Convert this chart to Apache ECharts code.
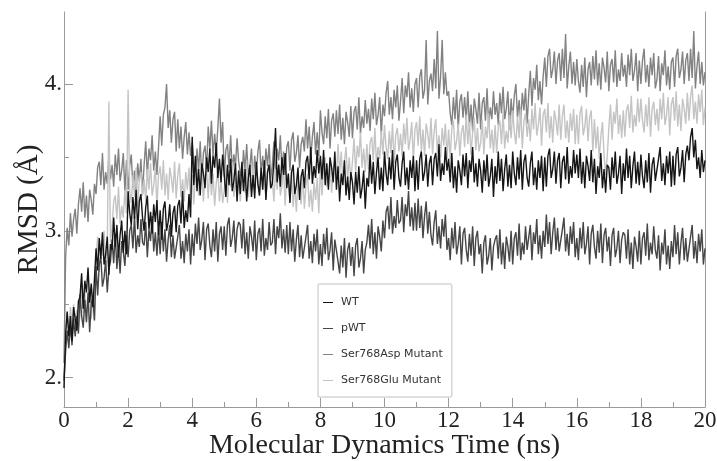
<!DOCTYPE html>
<html>
<head>
<meta charset="utf-8">
<script src="https://cdn.jsdelivr.net/npm/echarts@6/dist/echarts.min.js"></script>
<style>html,body{margin:0;padding:0;background:#fff}#chart{width:717px;height:461px}</style>
</head>
<body>
<div id="chart"></div>
<script>
// Sampling step of the traces (ns per frame)
const timeStep = 0.05;
const seriesNames = ['WT', 'pWT', 'Ser768Asp Mutant', 'Ser768Glu Mutant'];
const xTicks = [0, 2, 4, 6, 8, 10, 12, 14, 16, 18, 20];
const yTickLabels = [2, 3, 4];
const yMinorTicks = [2.5, 3.5];

const wt = [
1.93,2.30,2.45,2.28,2.42,2.25,2.48,2.40,2.32,2.52,
2.55,2.71,2.47,2.66,2.58,2.75,2.51,2.64,2.48,2.67,
2.88,2.73,2.95,2.81,2.99,2.77,2.84,2.96,2.70,2.91,
2.87,3.09,2.89,3.04,2.82,2.97,3.07,2.85,3.00,2.84,
3.27,3.12,3.04,3.23,3.08,3.28,3.01,3.20,3.25,3.09,
3.00,3.16,3.24,3.01,3.13,2.98,3.18,3.06,3.21,2.97,
3.14,2.94,3.15,3.20,3.00,3.06,3.18,2.96,3.12,3.17,
2.99,3.17,3.21,3.05,3.27,3.02,3.14,3.06,3.25,3.09,
3.64,3.31,3.51,3.27,3.42,3.24,3.46,3.39,3.29,3.50,
3.40,3.56,3.32,3.51,3.43,3.60,3.36,3.49,3.33,3.52,
3.38,3.23,3.45,3.31,3.49,3.27,3.34,3.46,3.20,3.41,
3.25,3.47,3.27,3.42,3.20,3.35,3.45,3.23,3.38,3.22,
3.47,3.32,3.24,3.43,3.28,3.48,3.21,3.40,3.45,3.29,
3.32,3.48,3.70,3.33,3.45,3.30,3.50,3.38,3.53,3.29,
3.39,3.19,3.40,3.45,3.25,3.31,3.43,3.21,3.37,3.42,
3.29,3.47,3.51,3.35,3.57,3.32,3.44,3.36,3.55,3.39,
3.51,3.35,3.55,3.31,3.46,3.28,3.50,3.43,3.33,3.54,
3.28,3.44,3.20,3.39,3.31,3.48,3.24,3.37,3.21,3.40,
3.33,3.18,3.40,3.26,3.44,3.22,3.29,3.41,3.15,3.36,
3.30,3.52,3.32,3.47,3.25,3.40,3.50,3.28,3.43,3.27,
3.54,3.39,3.31,3.50,3.35,3.55,3.28,3.47,3.52,3.36,
3.30,3.46,3.54,3.31,3.43,3.28,3.48,3.36,3.51,3.27,
3.48,3.28,3.49,3.54,3.34,3.40,3.52,3.30,3.46,3.51,
3.31,3.49,3.53,3.37,3.59,3.34,3.46,3.38,3.57,3.41,
3.49,3.33,3.53,3.29,3.44,3.26,3.48,3.41,3.31,3.52,
3.37,3.53,3.29,3.48,3.40,3.57,3.33,3.46,3.30,3.49,
3.41,3.26,3.48,3.34,3.52,3.30,3.37,3.49,3.23,3.44,
3.32,3.54,3.34,3.49,3.27,3.42,3.52,3.30,3.45,3.29,
3.54,3.39,3.31,3.50,3.35,3.55,3.28,3.47,3.52,3.36,
3.30,3.46,3.54,3.31,3.43,3.28,3.48,3.36,3.51,3.27,
3.50,3.30,3.51,3.56,3.36,3.42,3.54,3.32,3.48,3.53,
3.29,3.47,3.51,3.35,3.57,3.32,3.44,3.36,3.55,3.39,
3.52,3.36,3.56,3.32,3.47,3.29,3.51,3.44,3.34,3.55,
3.33,3.49,3.25,3.44,3.36,3.53,3.29,3.42,3.26,3.45,
3.43,3.28,3.50,3.36,3.54,3.32,3.39,3.51,3.25,3.46,
3.34,3.56,3.36,3.51,3.29,3.44,3.54,3.32,3.47,3.31,
3.52,3.37,3.29,3.48,3.33,3.53,3.26,3.45,3.50,3.34,
3.33,3.49,3.57,3.34,3.46,3.31,3.51,3.39,3.54,3.30,
3.51,3.31,3.52,3.57,3.37,3.43,3.55,3.33,3.52,3.58,
3.48,3.64,3.70,3.50,3.62,3.42,3.50,3.36,3.55,3.40,
3.48];

const pwt = [
1.98,2.18,2.32,2.20,2.36,2.22,2.40,2.28,2.42,2.30,
2.57,2.42,2.34,2.53,2.38,2.58,2.31,2.50,2.55,2.39,
2.76,2.56,2.77,2.82,2.62,2.68,2.80,2.58,2.74,2.79,
2.94,2.78,2.98,2.74,2.89,2.71,2.93,2.86,2.76,2.97,
2.82,3.00,3.04,2.88,3.10,2.85,2.97,2.89,3.08,2.92,
2.90,3.06,2.82,3.01,2.93,3.10,2.86,2.99,2.83,3.02,
2.84,3.06,2.86,3.01,2.79,2.94,3.04,2.82,2.97,2.81,
2.80,2.96,3.04,2.81,2.93,2.78,2.98,2.86,3.01,2.77,
2.98,2.83,3.05,2.91,3.09,2.87,2.94,3.06,2.80,3.01,
3.05,2.90,2.82,3.01,2.86,3.06,2.79,2.98,3.03,2.87,
3.03,2.83,3.04,3.09,2.89,2.95,3.07,2.85,3.01,3.06,
3.04,2.88,3.08,2.84,2.99,2.81,3.03,2.96,2.86,3.07,
2.80,2.98,3.02,2.86,3.08,2.83,2.95,2.87,3.06,2.90,
2.92,3.08,2.84,3.03,2.95,3.12,2.88,3.01,2.85,3.04,
2.84,3.06,2.86,3.01,2.79,2.94,3.04,2.82,2.97,2.81,
2.80,2.96,3.04,2.81,2.93,2.78,2.98,2.86,3.01,2.77,
2.91,2.76,2.98,2.84,3.02,2.80,2.87,2.99,2.73,2.94,
2.94,2.79,2.71,2.90,2.75,2.95,2.68,2.87,2.92,2.76,
2.89,2.69,2.90,2.95,2.75,2.81,2.93,2.71,2.87,2.92,
3.04,2.88,3.08,2.84,2.99,2.81,3.03,2.96,2.86,3.07,
2.95,3.13,3.17,3.01,3.23,2.98,3.10,3.02,3.21,3.05,
3.07,3.23,2.99,3.18,3.10,3.27,3.03,3.16,3.00,3.19,
3.00,3.22,3.02,3.17,2.95,3.10,3.20,2.98,3.13,2.97,
2.90,3.06,3.14,2.91,3.03,2.88,3.08,2.96,3.11,2.87,
2.95,2.80,3.02,2.88,3.06,2.84,2.91,3.03,2.77,2.98,
3.02,2.87,2.79,2.98,2.83,3.03,2.76,2.95,3.00,2.84,
2.91,2.71,2.92,2.97,2.77,2.83,2.95,2.73,2.89,2.94,
2.97,2.81,3.01,2.77,2.92,2.74,2.96,2.89,2.79,3.00,
2.77,2.95,2.99,2.83,3.05,2.80,2.92,2.84,3.03,2.87,
2.88,3.04,2.80,2.99,2.91,3.08,2.84,2.97,2.81,3.00,
2.89,3.11,2.91,3.06,2.84,2.99,3.09,2.87,3.02,2.86,
2.85,3.01,3.09,2.86,2.98,2.83,3.03,2.91,3.06,2.82,
2.95,2.80,3.02,2.88,3.06,2.84,2.91,3.03,2.77,2.98,
3.04,2.89,2.81,3.00,2.85,3.05,2.78,2.97,3.02,2.86,
2.96,2.76,2.97,3.02,2.82,2.88,3.00,2.78,2.94,2.99,
2.97,2.81,3.01,2.77,2.92,2.74,2.96,2.89,2.79,3.00,
2.77,2.95,2.99,2.83,3.05,2.80,2.92,2.84,3.03,2.87,
2.81,2.97,2.73,2.92,2.84,3.01,2.77,2.90,2.74,2.93,
2.82,3.04,2.84,2.99,2.77,2.92,3.02,2.80,2.95,2.79,
2.80,2.96,3.04,2.81,2.93,2.78,2.98,2.86,3.01,2.77,
2.88];

const asp = [
2.10,2.82,3.02,2.90,3.12,2.96,3.08,3.15,2.98,3.18,
3.29,3.13,3.33,3.09,3.24,3.06,3.28,3.21,3.11,3.32,
3.25,3.43,3.47,3.31,3.53,3.28,3.40,3.32,3.51,3.35,
3.45,3.30,3.52,3.38,3.56,3.34,3.41,3.53,3.27,3.48,
3.28,3.44,3.52,3.29,3.41,3.26,3.46,3.34,3.49,3.25,
3.45,3.61,3.37,3.56,3.48,3.65,3.41,3.54,3.38,3.57,
3.78,3.58,3.79,3.84,4.00,3.70,3.82,3.60,3.76,3.81,
3.54,3.76,3.56,3.71,3.49,3.64,3.74,3.52,3.67,3.51,
3.60,3.45,3.37,3.56,3.41,3.61,3.34,3.53,3.58,3.42,
3.71,3.55,3.75,3.51,3.66,3.53,3.70,3.90,3.60,3.74,
3.37,3.55,3.59,3.43,3.65,3.40,3.52,3.44,3.63,3.47,
3.48,3.33,3.55,3.41,3.59,3.37,3.44,3.56,3.30,3.51,
3.38,3.54,3.62,3.39,3.51,3.36,3.56,3.44,3.59,3.35,
3.45,3.61,3.37,3.56,3.48,3.65,3.41,3.54,3.38,3.57,
3.61,3.41,3.62,3.67,3.47,3.53,3.65,3.43,3.59,3.64,
3.54,3.76,3.56,3.71,3.49,3.64,3.74,3.52,3.67,3.51,
3.82,3.67,3.59,3.78,3.63,3.83,3.56,3.75,3.80,3.64,
3.82,3.66,3.86,3.62,3.77,3.59,3.81,3.74,3.64,3.85,
3.63,3.81,3.85,3.69,3.91,3.66,3.78,3.70,3.89,3.73,
3.83,3.68,3.90,3.76,3.94,3.72,3.79,3.91,3.65,3.86,
3.78,3.94,4.02,3.79,3.91,3.76,3.96,3.84,3.99,3.75,
3.88,4.04,3.80,3.99,3.91,4.08,3.84,3.97,3.81,4.00,
4.04,3.84,4.05,4.10,3.90,3.96,4.30,3.86,4.02,4.07,
3.95,4.17,3.97,4.36,3.90,4.05,4.30,3.93,4.08,3.92,
3.95,3.80,3.72,3.91,3.76,3.96,3.69,3.88,3.93,3.77,
3.91,3.75,3.95,3.71,3.86,3.68,3.90,3.83,3.73,3.94,
3.69,3.87,3.91,3.75,3.97,3.72,3.84,3.76,3.95,3.79,
3.87,3.72,3.94,3.80,3.98,3.76,3.83,3.95,3.69,3.90,
3.76,3.92,4.00,3.77,3.89,3.74,3.94,3.82,3.97,3.73,
3.93,4.09,3.85,4.04,3.96,4.13,3.89,4.02,3.86,4.05,
4.18,3.98,4.19,4.24,4.04,4.10,4.22,4.00,4.16,4.21,
4.02,4.24,4.04,4.34,3.97,4.12,4.22,4.00,4.15,3.99,
4.17,4.02,3.94,4.13,3.98,4.18,3.91,4.10,4.15,3.99,
4.19,4.03,4.23,3.99,4.14,3.96,4.18,4.11,4.01,4.22,
3.95,4.13,4.17,4.01,4.23,3.98,4.10,4.02,4.21,4.05,
4.13,3.98,4.20,4.06,4.24,4.02,4.09,4.21,3.95,4.16,
4.00,4.16,4.24,4.01,4.13,3.98,4.18,4.06,4.21,3.97,
4.03,4.19,3.95,4.14,4.06,4.23,3.99,4.12,3.96,4.15,
4.18,3.98,4.19,4.24,4.04,4.10,4.22,4.00,4.16,4.21,
4.02,4.24,4.04,4.36,3.97,4.12,4.22,4.00,4.15,3.99,
4.08];

const glu = [
2.00,2.30,2.44,2.32,2.48,2.36,2.50,2.38,2.46,2.34,
2.42,2.64,2.44,2.59,2.37,2.52,2.62,2.40,2.55,2.39,
2.80,2.96,2.72,2.91,2.83,3.00,2.76,2.89,3.88,2.92,
3.02,3.20,3.24,3.08,3.30,3.05,3.17,3.09,3.28,3.12,
3.96,3.27,3.19,3.38,3.23,3.43,3.16,3.35,3.40,3.24,
3.35,3.20,3.42,3.28,3.46,3.24,3.31,3.43,3.17,3.38,
3.44,3.28,3.48,3.24,3.39,3.21,3.43,3.36,3.26,3.47,
3.22,3.38,3.46,3.23,3.35,3.20,3.40,3.28,3.43,3.19,
3.38,3.18,3.39,3.44,3.24,3.30,3.42,3.20,3.36,3.41,
3.22,3.44,3.24,3.39,3.17,3.32,3.42,3.20,3.35,3.19,
3.27,3.43,3.19,3.38,3.30,3.47,3.23,3.36,3.20,3.39,
3.20,3.38,3.42,3.26,3.48,3.23,3.35,3.27,3.46,3.30,
3.47,3.32,3.24,3.43,3.28,3.48,3.21,3.40,3.45,3.29,
3.35,3.20,3.42,3.28,3.46,3.24,3.31,3.43,3.17,3.38,
3.36,3.20,3.40,3.16,3.31,3.13,3.35,3.28,3.18,3.39,
3.15,3.31,3.39,3.16,3.28,3.13,3.33,3.21,3.36,3.12,
3.44,3.24,3.45,3.50,3.30,3.36,3.48,3.26,3.42,3.47,
3.37,3.59,3.39,3.54,3.32,3.47,3.57,3.35,3.50,3.34,
3.47,3.63,3.39,3.58,3.50,3.67,3.43,3.56,3.40,3.59,
3.42,3.60,3.64,3.48,3.70,3.45,3.57,3.49,3.68,3.52,
3.72,3.57,3.49,3.68,3.53,3.73,3.46,3.65,3.70,3.54,
3.66,3.51,3.73,3.59,3.77,3.55,3.62,3.74,3.48,3.69,
3.74,3.58,3.78,3.54,3.69,3.51,3.73,3.66,3.56,3.77,
3.52,3.68,3.76,3.53,3.65,3.50,3.70,3.58,3.73,3.49,
3.69,3.49,3.70,3.75,3.55,3.61,3.73,3.51,3.67,3.72,
3.57,3.79,3.59,3.74,3.52,3.67,3.77,3.55,3.70,3.54,
3.60,3.76,3.52,3.71,3.63,3.80,3.56,3.69,3.53,3.72,
3.53,3.71,3.75,3.59,3.81,3.56,3.68,3.60,3.79,3.63,
3.82,3.67,3.59,3.78,3.63,3.83,3.56,3.75,3.80,3.64,
3.76,3.61,3.83,3.69,3.87,3.65,3.72,3.84,3.58,3.79,
3.83,3.67,3.87,3.63,3.78,3.60,3.82,3.75,3.65,3.86,
3.62,3.78,3.86,3.63,3.75,3.60,3.80,3.68,3.83,3.59,
3.79,3.59,3.80,3.85,3.65,3.71,3.83,3.61,3.77,3.82,
3.54,3.76,3.56,3.71,3.49,3.64,3.74,3.52,3.38,3.51,
3.70,3.86,3.62,3.81,3.73,3.90,3.66,3.79,3.63,3.82,
3.64,3.82,3.86,3.70,3.92,3.67,3.79,3.71,3.90,3.74,
3.90,3.75,3.67,3.86,3.71,3.91,3.64,3.83,3.88,3.72,
3.83,3.68,3.90,3.76,3.94,3.72,3.79,3.91,3.65,3.86,
3.91,3.75,3.95,3.71,3.86,3.68,3.90,3.83,3.73,3.94,
3.75,3.91,3.99,3.76,3.88,3.73,3.93,3.81,3.96,3.72,
3.84];

const colors = ['#151515', '#464646', '#828282', '#c4c4c4'];
const zOrder = [5, 4, 2, 3];
const allValues = [wt, pwt, asp, glu];

function toPairs(arr) {
  return arr.map((v, i) => [+(i * timeStep).toFixed(3), v]);
}

const serif = 'Liberation Serif';
const axisGray = '#9a9a9a';

const chart = echarts.init(document.getElementById('chart'), null, {renderer: 'canvas'});
chart.setOption({
  animation: false,
  backgroundColor: '#fff',
  grid: {left: 64, right: 12, top: 12, bottom: 54, containLabel: false, outerBoundsMode: 'none'},
  legend: {
    orient: 'vertical',
    left: 318, top: 284,
    data: seriesNames,
    icon: 'rect',
    itemWidth: 10, itemHeight: 1,
    itemGap: 15,
    padding: [13, 9, 11, 5],
    backgroundColor: '#fff',
    borderColor: '#d6d6d6', borderWidth: 1.5, borderRadius: 2,
    textStyle: {fontFamily: 'DejaVu Sans', fontSize: 11, color: '#333', padding: [0, 0, 0, 3]}
  },
  xAxis: {
    type: 'value', min: xTicks[0], max: xTicks[xTicks.length - 1], interval: 2,
    name: 'Molecular Dynamics Time (ns)', nameLocation: 'middle', nameGap: 25,
    nameMoveOverlap: false,
    nameTextStyle: {fontFamily: serif, fontSize: 28, color: '#222'},
    axisLine: {lineStyle: {color: axisGray, width: 1}},
    axisTick: {inside: true, length: 9, lineStyle: {color: axisGray}},
    minorTick: {show: true, splitNumber: 2, length: 5, lineStyle: {color: axisGray}},
    axisLabel: {fontFamily: serif, fontSize: 23, color: '#222', margin: 2},
    splitLine: {show: false}
  },
  yAxis: [
    {
      type: 'value', min: 1.8, max: 4.49,
      name: 'RMSD (Å)', nameLocation: 'middle', nameGap: 20,
      nameMoveOverlap: false,
      nameTextStyle: {fontFamily: serif, fontSize: 29, color: '#222'},
      axisLine: {show: true, lineStyle: {color: axisGray, width: 1}},
      axisTick: {show: true, inside: true, length: 9, customValues: yTickLabels, lineStyle: {color: axisGray}},
      axisLabel: {fontFamily: serif, fontSize: 23, color: '#222', margin: 2, customValues: yTickLabels,
                  formatter: v => v + '.'},
      splitLine: {show: false}
    },
    {
      type: 'value', min: 1.8, max: 4.49, position: 'left',
      axisLine: {show: false},
      axisTick: {show: true, inside: true, length: 5, customValues: yMinorTicks, lineStyle: {color: axisGray}},
      axisLabel: {show: false},
      splitLine: {show: false}
    },
    {
      type: 'value', min: 1.8, max: 4.49, position: 'right',
      axisLine: {show: true, lineStyle: {color: axisGray, width: 1}},
      axisTick: {show: false}, axisLabel: {show: false}, splitLine: {show: false}
    }
  ],
  series: seriesNames.map((name, k) => ({
    name: name,
    type: 'line',
    yAxisIndex: 0,
    data: toPairs(allValues[k]),
    showSymbol: false,
    symbol: 'none',
    color: colors[k],
    z: zOrder[k],
    lineStyle: {color: colors[k], width: 1.4},
    emphasis: {disabled: true}
  }))
});
</script>
</body>
</html>
